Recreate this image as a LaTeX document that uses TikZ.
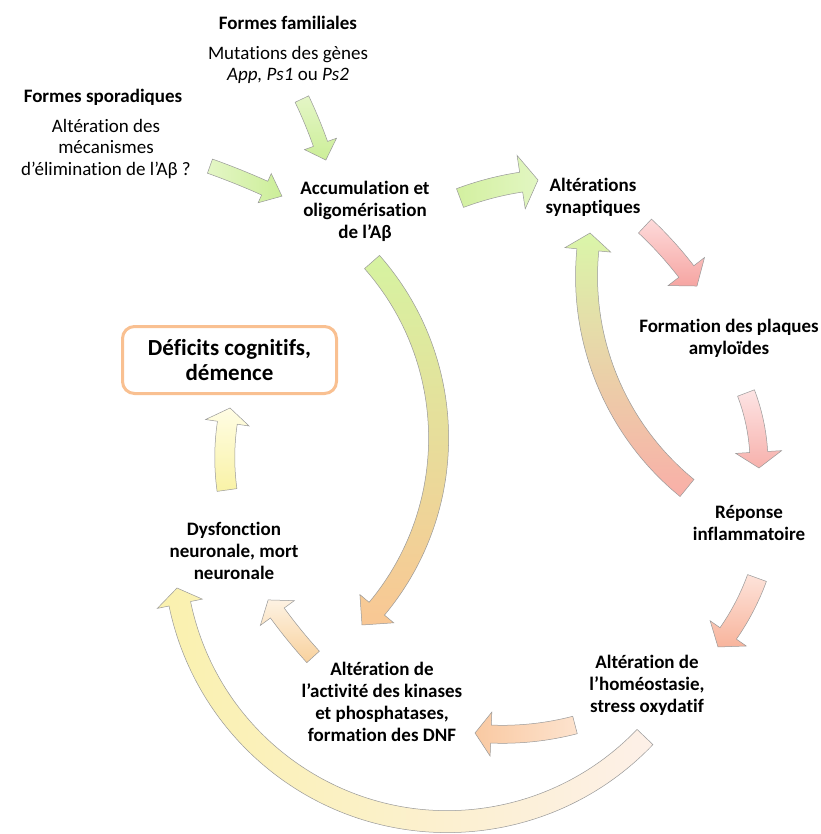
\documentclass[tikz,border=0pt]{standalone}
\usepackage{fontspec}
\setmainfont{Carlito}[Ligatures=NoCommon]
\definecolor{grnL}{HTML}{E4F6C6}
\definecolor{grnD}{HTML}{CCEE98}
\definecolor{cL}{HTML}{D3F0A0}
\definecolor{cR}{HTML}{E2F6C2}
\definecolor{dL}{HTML}{FDDADA}
\definecolor{dD}{HTML}{F6A5A2}
\definecolor{eL}{HTML}{FDE4E4}
\definecolor{eD}{HTML}{F7B1AC}
\definecolor{fL}{HTML}{FDE3DA}
\definecolor{fD}{HTML}{F8B49C}
\definecolor{gL}{HTML}{FDE3CE}
\definecolor{gD}{HTML}{F9C9A2}
\definecolor{hL}{HTML}{FDF2E2}
\definecolor{hD}{HTML}{F8D19D}
\definecolor{iL}{HTML}{FFFDE4}
\definecolor{iD}{HTML}{F9F2A6}
\definecolor{jT}{HTML}{D6F3A1}
\definecolor{jM}{HTML}{EFDA9C}
\definecolor{jB}{HTML}{F9C794}
\definecolor{kT}{HTML}{DAF6A9}
\definecolor{kM}{HTML}{F3D7C2}
\definecolor{kB}{HTML}{F9AFA8}
\definecolor{lL}{HTML}{FAF1AE}
\definecolor{lM}{HTML}{F9C693}
\definecolor{lR}{HTML}{FDF0E8}
\definecolor{boxor}{HTML}{F9C091}
% curved block arrow: #1 tail coord, #2 tip coord, #3 turn angle (ccw +), #4 half width, #5 head half width, #6 head length, #7 style
\newcommand\carrow[7]{%
  \path (#1); \pgfgetlastxy{\qAx}{\qAy}%
  \path (#2); \pgfgetlastxy{\qBx}{\qBy}%
  \pgfmathsetmacro\qdx{\qBx-\qAx}%
  \pgfmathsetmacro\qdy{\qBy-\qAy}%
  \pgfmathsetmacro\qc{veclen(\qdx,\qdy)}%
  \pgfmathsetmacro\qphi{atan2(\qdy,\qdx)}%
  \pgfmathsetmacro\qsg{sign(#3)}%
  \pgfmathsetmacro\qr{\qc/(2*sin(abs(#3)/2))}%
  \pgfmathsetmacro\qd{\qc/(2*tan((#3)/2))}%
  \pgfmathsetmacro\qCx{(\qAx+\qBx)/2-\qd*sin(\qphi)}%
  \pgfmathsetmacro\qCy{(\qAy+\qBy)/2+\qd*cos(\qphi)}%
  \pgfmathsetmacro\qa{\qphi-(#3)/2-90*\qsg}%
  \pgfmathsetmacro\qb{\qa+(#3)}%
  \pgfmathsetmacro\qh{\qb-\qsg*(#6)/\qr*57.29578}%
  \pgfmathsetmacro\qRo{\qr+(#4)}%
  \pgfmathsetmacro\qRi{\qr-(#4)}%
  \pgfmathsetmacro\qRho{\qr+(#5)}%
  \pgfmathsetmacro\qRhi{\qr-(#5)}%
  \path[arrowbox,#7] ([shift={(\qa:\qRo pt)}]\qCx pt,\qCy pt)
    arc[start angle=\qa,end angle=\qh,radius=\qRo pt]
    -- ([shift={(\qh:\qRho pt)}]\qCx pt,\qCy pt)
    -- ([shift={(\qb:\qr pt)}]\qCx pt,\qCy pt)
    -- ([shift={(\qh:\qRhi pt)}]\qCx pt,\qCy pt)
    -- ([shift={(\qh:\qRi pt)}]\qCx pt,\qCy pt)
    arc[start angle=\qh,end angle=\qa,radius=\qRi pt] -- cycle;
}
\begin{document}
\begin{tikzpicture}[x=1pt,y=-1pt,
  lab/.style={align=center,inner sep=0pt,font=\fontsize{19}{22}\selectfont\bfseries},
  txt/.style={align=center,inner sep=0pt,font=\fontsize{19}{21.5}\selectfont},
  arrowbox/.style={draw=black!40,line width=0.5pt}]
\useasboundingbox[fill=white] (0,0) rectangle (820,834);

% arrow end points
\coordinate (aT) at (302,99);  \coordinate (aP) at (326,160);
\coordinate (bT) at (210,166); \coordinate (bP) at (282,196);
\coordinate (cT) at (460,198); \coordinate (cP) at (538,180);
\coordinate (dT) at (645,226); \coordinate (dP) at (697,286);
\coordinate (eT) at (746,393); \coordinate (eP) at (759,468);
\coordinate (fT) at (757,578); \coordinate (fP) at (718,647);
\coordinate (gT) at (575,725); \coordinate (gP) at (475,733);
\coordinate (hT) at (313,657); \coordinate (hP) at (268,600);
\coordinate (iT) at (227,490); \coordinate (iP) at (230,408);
\coordinate (jT) at (372,262); \coordinate (jP) at (362,625);
\coordinate (kT) at (687,488); \coordinate (kP) at (590,233);
\coordinate (lT) at (645,737); \coordinate (lP) at (177,588);

\carrow{lT}{lP}{-128}{11}{23}{16}{left color=lL,middle color=lM,right color=lR}
\carrow{jT}{jP}{-86}{10}{22}{22}{top color=jT,middle color=jM,bottom color=jB}
\carrow{kT}{kP}{-60}{11}{23}{17}{top color=kT,middle color=kM,bottom color=kB}
\carrow{aT}{aP}{-8}{7.5}{17}{17}{top color=grnL,bottom color=grnD}
\carrow{bT}{bP}{-6}{7.5}{16}{19}{left color=grnL,right color=grnD}
\carrow{cT}{cP}{-15}{10}{27}{17}{left color=cL,right color=cR}
\carrow{dT}{dP}{-12}{9.5}{23}{18}{top color=dL,bottom color=dD}
\carrow{eT}{eP}{-22}{9}{23}{16}{top color=eL,bottom color=eD}
\carrow{fT}{fP}{-19}{10}{22}{17}{top color=fL,bottom color=fD}
\carrow{gT}{gP}{-20}{9}{22}{16}{left color=gD,right color=gL}
\carrow{hT}{hP}{-8}{8.5}{21}{16}{top color=hL,bottom color=hD}
\carrow{iT}{iP}{-20}{10}{22}{15}{top color=iL,bottom color=iD}

% texts
\node[lab] (fam) at (288,23) {Formes familiales};
\node[txt] (mut) at (288,65) {Mutations des gènes\\\textit{App, Ps1} ou \textit{Ps2}};
\node[lab] (spo) at (103,97) {Formes sporadiques};
\node[txt] (alt) at (106,149) {Altération des\\mécanismes\\d’élimination de l’Aβ ?};
\node[lab] (acc) at (365,211) {Accumulation et\\oligomérisation\\de l’Aβ};
\node[lab] (syn) at (593,197) {Altérations\\synaptiques};
\node[lab] (pla) at (729,338) {Formation des plaques\\amyloïdes};
\node[lab] (rep) at (749,523) {Réponse\\inflammatoire};
\node[lab] (hom) at (647,685) {Altération de\\l’homéostasie,\\stress oxydatif};
\node[lab] (kin) at (382,702) {Altération de\\l’activité des kinases\\et phosphatases,\\formation des DNF};
\node[lab] (dys) at (234,551) {Dysfonction\\neuronale, mort\\neuronale};
\node[align=center,draw=boxor,line width=3pt,rounded corners=12pt,fill=white,
  minimum width=214pt,minimum height=67pt,inner sep=0pt,
  font=\fontsize{23}{25.5}\selectfont\bfseries] (def) at (229.5,360) {Déficits cognitifs,\\démence};
\end{tikzpicture}
\end{document}
